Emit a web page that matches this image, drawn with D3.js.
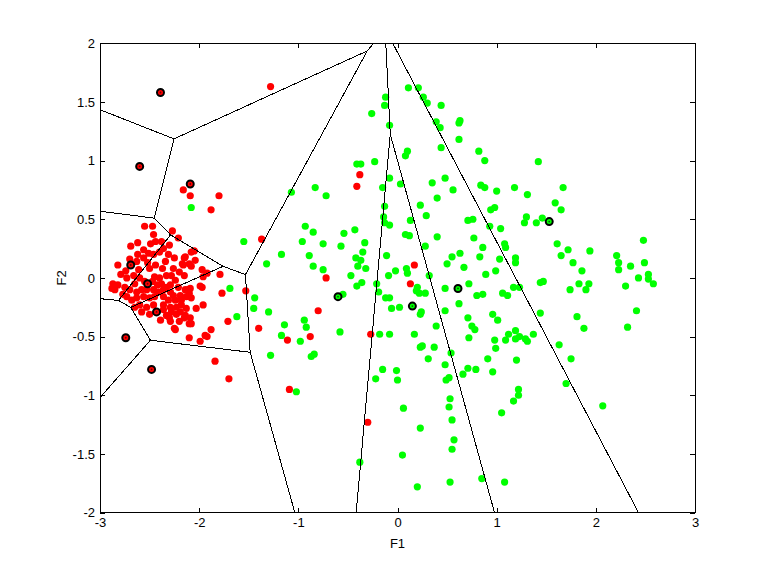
<!DOCTYPE html>
<html>
<head>
<meta charset="utf-8">
<script src="https://cdn.jsdelivr.net/npm/d3@7"></script>
<style>
  html, body { margin: 0; padding: 0; background: #fff; }
  svg { display: block; }
  text { font-family: "Liberation Sans", Arial, Helvetica, sans-serif; }
</style>
</head>
<body>
<svg id="chart" width="768" height="576"></svg>
<script>
const xTicks = [-3, -2, -1, 0, 1, 2, 3];
const yTicks = [-2, -1.5, -1, -0.5, 0, 0.5, 1, 1.5, 2];
const xLabel = "F1";
const yLabel = "F2";

const greenPoints = [
[0.11,1.62],[0.21,1.62],[0.26,1.54],[0.30,1.49],[0.44,1.47],[-0.12,1.54],[-0.13,1.47],[-0.26,1.40],[-0.08,1.30],[0.39,1.33],[0.43,1.28],[0.63,1.34],[0.62,1.32],[0.62,1.18],[0.44,1.11],[0.10,1.08],[0.08,1.04],[0.82,1.08],[0.88,1.00],[-0.41,0.97],[-0.37,0.97],[-0.23,0.99],[-0.83,0.77],[-0.72,0.70],[-0.08,0.85],[-0.15,0.77],[0.03,0.80],[0.35,0.81],[0.48,0.85],[0.56,0.75],[0.40,0.68],[0.84,0.79],[0.88,0.77],[1.00,0.74],[1.42,0.99],[1.18,0.77],[1.31,0.71],[1.67,0.77],[1.59,0.64],[1.65,0.58],[0.94,0.58],[0.98,0.60],[0.23,0.62],[0.29,0.53],[0.71,0.49],[0.76,0.50],[0.93,0.44],[1.04,0.42],[1.30,0.52],[1.28,0.47],[1.40,0.47],[1.46,0.51],[0.40,0.35],[0.28,0.27],[0.77,0.34],[1.08,0.29],[1.09,0.26],[0.86,0.26],[0.63,0.21],[0.55,0.18],[0.50,0.12],[0.83,0.18],[1.03,0.16],[1.19,0.17],[1.19,0.13],[0.67,0.09],[0.99,0.06],[0.89,0.03],[1.61,0.29],[1.72,0.24],[1.65,0.19],[1.94,0.23],[1.77,0.13],[1.86,0.06],[2.21,0.19],[2.23,0.13],[2.23,0.07],[2.35,0.10],[2.49,0.13],[2.48,0.32],[2.43,0.00],[2.53,0.03],[2.53,-0.01],[2.58,-0.05],[2.30,-0.07],[1.44,-0.04],[1.47,-0.03],[1.74,-0.10],[1.83,-0.05],[1.93,-0.05],[1.90,-0.10],[0.48,-0.09],[0.72,-0.05],[0.32,0.02],[0.28,-0.13],[0.80,-0.15],[0.86,-0.14],[1.06,-0.13],[1.11,-0.15],[1.17,-0.08],[1.23,-0.08],[0.62,-0.22],[0.48,-0.28],[0.24,-0.29],[2.41,-0.28],[1.81,-0.33],[1.44,-0.30],[0.71,-0.34],[0.96,-0.31],[1.01,-0.36],[0.75,-0.41],[0.78,-0.44],[0.39,-0.41],[1.88,-0.43],[2.32,-0.42],[1.19,-0.45],[1.12,-0.48],[1.37,-0.48],[1.19,-0.52],[1.23,-0.50],[1.29,-0.52],[1.31,-0.54],[0.72,-0.51],[0.98,-0.53],[0.99,-0.60],[1.09,-0.53],[0.25,-0.58],[0.23,-0.59],[0.37,-0.59],[1.63,-0.57],[0.54,-0.64],[0.31,-0.69],[0.91,-0.69],[1.20,-0.70],[1.75,-0.69],
[-0.96,0.31],[-0.75,0.29],[-0.57,0.27],[-0.33,0.30],[-0.89,0.19],[-0.42,0.17],[-0.37,0.15],[-0.35,0.22],[-0.11,0.19],[-0.85,0.10],[-0.75,0.07],[-0.40,0.10],[-0.32,0.08],[-0.47,0.02],[-0.36,-0.04],[-0.41,-0.07],[-0.21,-0.05],[-0.19,-0.12],[-0.55,-0.14],[-0.09,0.02],[-0.02,0.06],[0.09,0.08],[0.10,0.04],[0.20,-0.08],[0.19,-0.11],[0.22,-0.13],[-0.12,-0.17],[-0.08,-0.17],[-0.06,-0.26],[0.02,-0.25],[0.23,-0.31],[-0.94,-0.36],[-0.92,-0.42],[-0.58,-0.46],[-0.87,-0.67],[-0.84,-0.65],[-0.98,-0.54],[-0.18,-0.48],[-0.08,-0.48],[0.17,-0.48],[-0.15,-0.78],[-0.01,-0.79],[0.00,-0.87],[-0.22,-0.86],[0.48,-0.74],[0.66,-0.82],[0.71,-0.77],[0.79,-0.78],[0.96,-0.80],[0.49,-0.87],[0.52,-0.85],
[-1.02,-0.97],[1.70,-0.90],[1.22,-0.95],[1.22,-1.00],[1.17,-1.05],[1.05,-1.15],[2.07,-1.09],[0.53,-1.03],[0.52,-1.10],[0.06,-1.11],[0.55,-1.21],[0.23,-1.28],[0.57,-1.38],[0.55,-1.46],[0.05,-1.51],[-0.38,-1.57],[0.85,-1.71],[1.08,-1.74],[0.53,-1.74],[0.20,-1.78],
[-1.07,0.73],[-0.13,0.61],[-0.14,0.52],[-0.13,0.47],[-0.08,0.45],[0.13,0.49],[0.08,0.37],[0.12,0.36],[-0.93,0.44],[-0.85,0.39],[-0.54,0.38],[-0.43,0.41],[-1.55,0.31],
[-2.08,0.60],[-1.17,0.20],[-1.32,0.12],[-1.69,-0.09],[-1.44,-0.17],[-1.45,-0.26],[-1.30,-0.29],[-1.14,-0.40],[-1.17,-0.49],[-1.28,-0.66],[-1.62,-0.33]
];

const redPoints = [
[-1.28,1.63],[-2.16,0.75],[-2.09,0.70],[-1.80,0.70],[-1.88,0.58],[-0.38,0.88],[-0.41,0.78],[-1.37,0.33],[-1.53,-0.11],[-1.40,-0.43],[-1.11,-0.53],[-0.88,-0.50],[-0.80,-0.28],[-0.72,0.00],[-0.27,-0.48],[-0.30,-1.23],[-1.09,-0.95],[0.17,0.11],[0.13,-0.05],[-1.84,-0.71],[-1.70,-0.86],[-1.71,-0.37],[-1.77,-0.13],[-1.79,0.03],[-1.97,0.07],[-1.92,0.04],[-1.97,-0.08],[-1.99,-0.07],[-1.88,-0.44],[-1.94,-0.49],[-1.92,-0.50],[-2.10,-0.51],[-1.99,-0.54],[-2.03,-0.26],[-1.96,-0.23],[-2.15,-0.34],[-2.08,-0.39],[-2.10,-0.39],[-2.24,-0.44],[-2.29,-0.37],[-2.05,0.23],[-2.08,0.22],[-2.04,0.15],[-2.14,0.18],[-2.17,0.12],[-2.10,0.12],[-2.11,-0.10],
[-2.55,0.44],[-2.47,0.44],[-2.27,0.40],[-2.21,0.34],[-2.69,0.27],[-2.49,0.29],[-2.44,0.31],[-2.38,0.31],[-2.36,0.25],[-2.56,0.24],[-2.51,0.21],[-2.56,0.17],[-2.46,0.20],[-2.31,0.20],[-2.25,0.17],[-2.15,0.17],[-2.16,0.11],[-2.08,0.10],[-1.96,0.01],[-2.82,0.11],[-2.63,0.14],[-2.61,0.07],[-2.79,0.03],[-2.73,0.00],[-2.87,-0.05],[-2.82,-0.06],[-2.75,-0.08],[-2.85,-0.10],[-2.88,-0.09],[-2.66,0.02],[-2.60,0.00],[-2.65,-0.05],[-2.45,0.01],[-2.40,0.00],[-2.38,-0.05],[-2.33,0.02],[-2.28,0.02],[-2.24,-0.02],[-2.29,-0.06],[-2.21,-0.08],[-2.70,-0.10],[-2.63,-0.12],[-2.58,-0.10],[-2.53,-0.10],[-2.46,-0.10],[-2.41,-0.12],[-2.36,-0.10],[-2.29,-0.12],[-2.26,-0.15],[-2.19,-0.15],[-2.14,-0.10],[-2.09,-0.09],[-2.10,-0.13],[-2.73,-0.16],[-2.68,-0.19],[-2.63,-0.17],[-2.56,-0.16],[-2.50,-0.17],[-2.45,-0.16],[-2.36,-0.16],[-2.31,-0.19],[-2.24,-0.19],[-2.18,-0.19],[-2.13,-0.16],[-2.08,-0.17],[-2.65,-0.25],[-2.60,-0.23],[-2.53,-0.25],[-2.46,-0.23],[-2.36,-0.23],[-2.29,-0.25],[-2.23,-0.25],[-2.18,-0.23],[-2.13,-0.26],[-2.28,-0.29],[-2.23,-0.31],[-2.19,-0.29],[-2.25,-0.43],[-2.36,-0.27],[-2.33,-0.32],[-2.14,-0.32],[-2.09,-0.34],[-2.74,0.06],[-2.46,0.37],
[-2.44,0.11],[-2.37,0.08],[-2.50,0.08],[-2.26,0.08],[-2.55,-0.03],[-2.47,-0.03],
[-2.62,0.30],[-2.40,0.22],[-2.30,0.28],[-2.42,-0.06],[-2.33,-0.08],[-2.50,-0.31],[-2.39,-0.36],[-2.30,-0.34],[-2.58,-0.29],[-2.20,-0.37],[-2.77,-0.14],[-2.62,0.20],[-2.20,0.05],[-2.15,0.02],[-2.70,0.16],[-2.52,0.13],[-2.34,0.14]
];

const redPrototypes = [[-2.39,1.58],[-2.60,0.95],[-2.09,0.80],[-2.69,0.11],[-2.52,-0.05],[-2.43,-0.29],[-2.74,-0.51],[-2.48,-0.78]];
const greenPrototypes = [[-0.60,-0.16],[0.15,-0.24],[0.61,-0.09],[1.53,0.48]];

const RED = "#ff0000", GREEN = "#00ff00";

const svg = d3.select("#chart");
svg.append("rect").attr("width", 768).attr("height", 576).attr("fill", "#fff");

const x = d3.scaleLinear().domain([-3, 3]).range([100, 695]);
const y = d3.scaleLinear().domain([-2, 2]).range([512.6, 43.2]);

svg.append("defs").append("clipPath").attr("id", "plotclip")
  .append("rect").attr("x", 100).attr("y", 43.2).attr("width", 595).attr("height", 469.4);

const plot = svg.append("g").attr("clip-path", "url(#plotclip)");

// data points
plot.append("g").selectAll("circle").data(redPoints).join("circle")
  .attr("cx", d => x(d[0])).attr("cy", d => y(d[1])).attr("r", 3.6).attr("fill", RED);
plot.append("g").selectAll("circle").data(greenPoints).join("circle")
  .attr("cx", d => x(d[0])).attr("cy", d => y(d[1])).attr("r", 3.6).attr("fill", GREEN);

// Voronoi of prototypes (computed in data space)
const protos = redPrototypes.concat(greenPrototypes);
const vor = d3.Delaunay.from(protos).voronoi([-30, -30, 30, 30]);
const pth = d3.path();
vor.render({
  moveTo: (a, b) => pth.moveTo(x(a), y(b)),
  lineTo: (a, b) => pth.lineTo(x(a), y(b)),
  closePath: () => pth.closePath()
});
plot.append("path").attr("d", pth.toString())
  .attr("fill", "none").attr("stroke", "#000").attr("stroke-width", 1)
  .attr("shape-rendering", "crispEdges");

// prototypes
function drawProtos(arr, col, dark) {
  const g = plot.append("g");
  g.selectAll("circle.p").data(arr).join("circle").attr("class", "p")
    .attr("cx", d => x(d[0])).attr("cy", d => y(d[1])).attr("r", 3.5)
    .attr("fill", col).attr("stroke", "#000").attr("stroke-width", 2);
  g.selectAll("circle.c").data(arr).join("circle").attr("class", "c")
    .attr("cx", d => x(d[0])).attr("cy", d => y(d[1])).attr("r", 0.9)
    .attr("fill", dark);
}
drawProtos(redPrototypes, RED, "#700000");
drawProtos(greenPrototypes, GREEN, "#006000");

// axes
const fmt = d => String(d);
const axB = svg.append("g").attr("transform", "translate(0,512.6)")
  .call(d3.axisBottom(x).tickValues(xTicks).tickFormat(fmt).tickSizeInner(-5).tickSizeOuter(0).tickPadding(5.5));
const axT = svg.append("g").attr("transform", "translate(0,43.2)")
  .call(d3.axisTop(x).tickValues(xTicks).tickFormat("").tickSizeInner(-5).tickSizeOuter(0));
const axL = svg.append("g").attr("transform", "translate(100,0)")
  .call(d3.axisLeft(y).tickValues(yTicks).tickFormat(fmt).tickSizeInner(-5).tickSizeOuter(0).tickPadding(5));
const axR = svg.append("g").attr("transform", "translate(695,0)")
  .call(d3.axisRight(y).tickValues(yTicks).tickFormat("").tickSizeInner(-5).tickSizeOuter(0));
[axB, axT, axL, axR].forEach(a => {
  a.select(".domain").remove();
  a.selectAll("line").attr("stroke", "#000").attr("shape-rendering", "crispEdges");
  a.selectAll("text").attr("fill", "#000").style("font-size", "13px")
    .style("font-family", "'Liberation Sans', Arial, Helvetica, sans-serif");
});

svg.append("rect").attr("x", 100).attr("y", 43.2).attr("width", 595).attr("height", 469.4)
  .attr("fill", "none").attr("stroke", "#000").attr("stroke-width", 1).attr("shape-rendering", "crispEdges");

svg.append("text").attr("x", x(0)).attr("y", 548).attr("text-anchor", "middle")
  .style("font-size", "13px").text(xLabel);
svg.append("text").attr("transform", `translate(66,${y(0)}) rotate(-90)`).attr("text-anchor", "middle")
  .style("font-size", "13px").text(yLabel);
</script>
</body>
</html>
